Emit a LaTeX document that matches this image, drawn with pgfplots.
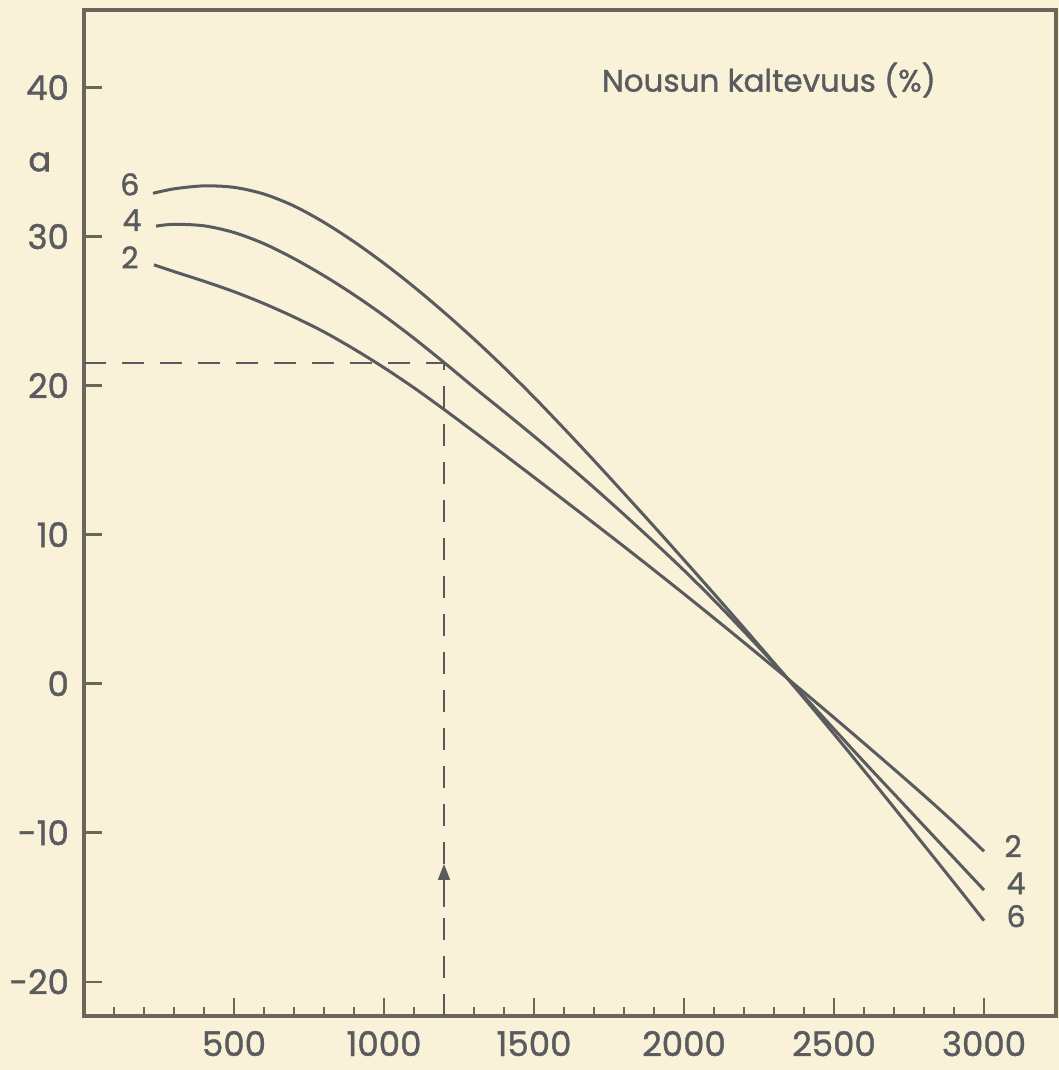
\documentclass[border=0pt]{standalone}
\usepackage{pgfplots}
\pgfplotsset{compat=1.18}
\usepackage{fontspec}
\setmainfont{Poppins}
\newfontfamily\medfont{Poppins}[FakeBold=1.2]
\usetikzlibrary{arrows.meta}
\definecolor{paper}{HTML}{F9F2D9}
\definecolor{ink}{HTML}{595B5E}
\definecolor{axisc}{HTML}{6A665C}
\begin{document}
\begin{tikzpicture}
\path[use as bounding box, fill=paper] (-42pt,-27pt) rectangle (487.5pt,508pt);
\begin{axis}[
 at={(0,0)}, anchor=south west, scale only axis, width=486pt, height=503pt,
 xmin=0, xmax=3240, ymin=-22.3, ymax=45.2,
 axis line style={draw=axisc, line width=2.2pt},
 xtick={500,1000,...,3000}, minor xtick={100,200,...,3000},
 xticklabels={500,1000,1500,2000,2500,3000},
 ytick={-20,-10,...,40}, yticklabels={-20,-10,0,10,20,30,40},
 tick align=inside, xtick pos=bottom, ytick pos=left,
 major tick length=9pt, minor tick length=4.5pt,
 tick style={draw=axisc, line width=1.2pt},
 ticklabel style={font=\medfont\fontsize{17}{18}\selectfont, text=ink},
 xticklabel style={yshift=-4pt},
 yticklabel style={xshift=-4pt},
 clip=false,
 /pgf/number format/assume math mode=true,
]
% dashed guide lines
\addplot[ink, line width=0.9pt, dash pattern=on 11pt off 8pt] coordinates {(0,21.5) (1200,21.5)};
\addplot[ink, line width=0.9pt, dash pattern=on 11pt off 8pt] coordinates {(1200,-22.3) (1200,21.5)};
\addplot[ink, line width=0.9pt, -{Triangle[length=8pt,width=6pt]}] coordinates {(1200,-15) (1200,-12.1)};
% curve 6
\addplot[ink, line width=1.5pt, smooth] coordinates {
(230,32.9) (300,33.2) (400,33.4) (500,33.3) (600,32.85) (700,32.05) (800,30.95)
(900,29.65) (1000,28.2) (1100,26.62) (1200,24.92) (1300,23.12) (1400,21.22)
(1500,19.22) (1600,17.12) (1700,14.97) (1800,12.77) (1900,10.55) (2000,8.3)
(2100,6.03) (2200,3.73) (2300,1.4) (2400,-0.97) (2500,-3.38) (2600,-5.83)
(2700,-8.32) (2800,-10.83) (2900,-13.35) (3000,-15.9)};
% curve 4
\addplot[ink, line width=1.5pt, smooth] coordinates {
(240,30.7) (300,30.82) (400,30.72) (500,30.27) (600,29.52) (700,28.52) (800,27.37)
(900,26.09) (1000,24.69) (1100,23.17) (1200,21.55) (1300,19.88) (1400,18.25)
(1500,16.6) (1600,14.9) (1700,13.15) (1800,11.35) (1900,9.5) (2000,7.6)
(2100,5.6) (2200,3.5) (2300,1.35) (2400,-0.85) (2500,-3.05) (2600,-5.25)
(2700,-7.4) (2800,-9.55) (2900,-11.7) (3000,-13.85)};
% curve 2
\addplot[ink, line width=1.5pt, smooth] coordinates {
(233,28.1) (300,27.65) (400,27.0) (500,26.3) (600,25.5) (700,24.6) (800,23.6)
(900,22.45) (1000,21.2) (1100,19.85) (1200,18.4) (1300,16.9) (1400,15.38)
(1500,13.85) (1600,12.31) (1700,10.76) (1800,9.2) (1900,7.62) (2000,6.02)
(2100,4.4) (2200,2.76) (2300,1.1) (2400,-0.58) (2500,-2.28) (2600,-4.0)
(2700,-5.74) (2800,-7.5) (2900,-9.32) (3000,-11.25)};
% labels
\node[text=ink, font=\medfont\fontsize{15.5}{17}\selectfont] at (axis cs:2283,40.5) {Nousun kaltevuus (\%)};
\node[text=ink, font=\medfont\fontsize{17}{18}\selectfont] at (axis cs:-147,35.0) {a};
\begin{scope}[every node/.style={text=ink, font=\medfont\fontsize{15}{16}\selectfont}]
\node at (axis cs:153,33.5) {6};
\node at (axis cs:160,31.1) {4};
\node at (axis cs:153,28.6) {2};
\node at (axis cs:3097,-10.9) {2};
\node at (axis cs:3107,-13.4) {4};
\node at (axis cs:3107,-15.6) {6};
\end{scope}
\end{axis}
\end{tikzpicture}
\end{document}
